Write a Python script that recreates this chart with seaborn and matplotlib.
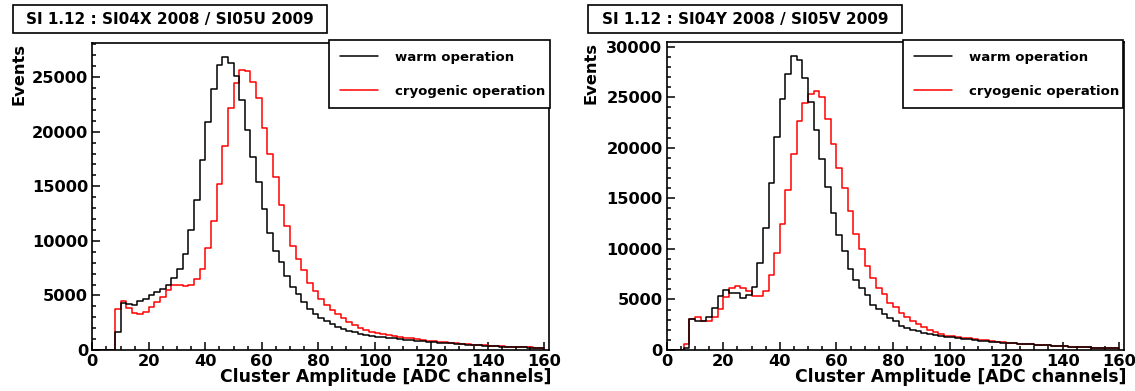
import numpy as np
import pandas as pd
import matplotlib
matplotlib.use("Agg")
import matplotlib.pyplot as plt
import matplotlib.patches as mpatches
from matplotlib.lines import Line2D
from matplotlib.ticker import MultipleLocator
import seaborn as sns

# ---------------- data ----------------
bin_width = 2                 # 80 bins of 2 ADC channels
bin_range = (0, 160)

titles = ["SI 1.12 : SI04X 2008 / SI05U 2009", "SI 1.12 : SI04Y 2008 / SI05V 2009"]
series_labels = ["warm operation", "cryogenic operation"]
series_colors = ["#000000", "#ff0000"]
x_label = "Cluster Amplitude [ADC channels]"
y_label = "Events"

left_warm = [0, 0, 0, 0, 1670,
             4260, 4190, 4100, 4470, 4710, 5020, 5320, 5620, 5930,
             6630, 7450, 8810, 11000, 13770, 17390, 20910, 23950, 26140, 26810, 26290,
             25140, 22890, 20120, 17690, 15350, 12920, 10700, 9060, 8050, 6750, 5780,
             5110, 4410, 3800, 3340, 2950, 2640, 2340, 2130, 1950, 1760, 1610, 1460, 1370, 1280,
             1220, 1170, 1110, 1060, 1010, 960, 910, 860, 810, 760, 720, 680, 640, 600, 560,
             520, 490, 460, 430, 400, 370, 345, 320, 295, 270, 250, 230, 210, 190, 170]
left_cryo = [0, 0, 0, 0,
             3800, 4500, 3860, 3400, 3340, 3500, 3950, 4410, 4860, 5530,
             5990, 5930, 5870, 5930, 6470, 7450, 9360, 11850, 15200, 18690, 22190,
             24470, 25620, 25530, 24530, 23040, 20300, 17930, 15810, 13310, 11400, 9570,
             8360, 7300, 6170, 5410, 4710, 4100, 3650, 3280, 2890, 2580, 2280, 2040, 1820, 1610,
             1520, 1440, 1360, 1280, 1200, 1130, 1060, 990, 920, 860, 810, 760, 710, 660, 620,
             580, 540, 500, 465, 430, 400, 370, 345, 320, 295, 270, 250, 230, 210, 190]

right_warm = [0, 0, 0, 150,
              3030, 2860, 2860, 3220, 4180, 5330, 5920,
              5660, 5590, 5100, 5430, 6250, 8620, 12070, 16550, 21120, 24840, 27300,
              29050, 28680, 26910, 24570, 21810, 18910, 16120, 13590, 11350, 9800, 8060,
              6970, 6090, 5430, 4440, 4010, 3550, 3190, 2850,
              2400, 2200, 2000, 1850, 1720, 1600, 1480, 1380, 1290,
              1250, 1180, 1110, 1050, 990, 930, 880, 830, 780, 740, 700, 660, 620, 580, 545,
              510, 480, 450, 420, 390, 360, 330, 305, 280, 255, 235, 215, 195, 180, 165]
right_cryo = [0, 0, 0, 590,
              3030, 3220, 2860, 2860, 3290, 4010, 5200,
              6180, 6320, 6180, 5860, 5360, 5330, 5860, 7400, 9640, 12430, 15790,
              19410, 22630, 24440, 25330, 25660, 25070, 22860, 20390, 17990, 16020, 13720,
              11510, 9970, 8290, 7170, 6180, 5530, 4670, 4250,
              3700, 3300, 2900, 2550, 2250, 2000, 1750, 1560, 1420,
              1370, 1290, 1210, 1140, 1070, 1000, 940, 880, 830, 780, 730, 680, 640, 600, 560,
              520, 485, 450, 420, 390, 360, 330, 305, 280, 255, 235, 215, 195, 180, 165]

panels = [(left_warm, left_cryo), (right_warm, right_cryo)]

# ---------------- style ----------------
sns.set_style("ticks")
plt.rcParams["font.family"] = ["DejaVu Sans"]
plt.rcParams["font.weight"] = "bold"
plt.rcParams["axes.labelweight"] = "bold"
for key in ["text.color", "axes.labelcolor", "xtick.color", "ytick.color",
            "xtick.labelcolor", "ytick.labelcolor", "axes.edgecolor"]:
    plt.rcParams[key] = "black"

W, H = 1135, 391
fig = plt.figure(figsize=(W / 100, H / 100), dpi=100)
fig.patch.set_facecolor("white")

# pixel boxes: (left, top, right, bottom)
ax_boxes = [(92.3, 42.7, 549.0, 350.0), (666.7, 41.7, 1124.0, 350.0)]
title_boxes = [(13.3, 5.0, 326.7, 33.3), (588.3, 5.0, 901.7, 33.3)]
legend_boxes = [(329.0, 40.0, 550.0, 110.0), (903.3, 40.0, 1123.3, 110.0)]
ylabel_x = [-0.145, -0.150]

n_bins = int((bin_range[1] - bin_range[0]) / bin_width)
bin_centers = bin_range[0] + bin_width * (np.arange(n_bins) + 0.5)

for k, (warm, cryo) in enumerate(panels):
    l, t, r, b = ax_boxes[k]
    ax = fig.add_axes([l / W, 1 - b / H, (r - l) / W, (b - t) / H])
    df = pd.DataFrame({
        "amp": np.concatenate([bin_centers, bin_centers]),
        "events": np.concatenate([warm, cryo]).astype(float),
        "op": [series_labels[0]] * len(warm) + [series_labels[1]] * len(cryo),
    })
    sns.histplot(data=df, x="amp", weights="events", hue="op",
                 hue_order=series_labels,
                 palette=dict(zip(series_labels, series_colors)),
                 binwidth=bin_width, binrange=bin_range, element="step", fill=False,
                 linewidth=1.1, legend=False, ax=ax)

    ymax = 1.05 * max(max(warm), max(cryo))
    ax.set_xlim(0, 161.7)
    ax.set_ylim(0, ymax)
    ax.xaxis.set_major_locator(MultipleLocator(20))
    ax.xaxis.set_minor_locator(MultipleLocator(5))
    ax.yaxis.set_major_locator(MultipleLocator(5000))
    ax.yaxis.set_minor_locator(MultipleLocator(1000))
    ax.tick_params(which="both", direction="in", top=False, right=False,
                   bottom=True, left=True, color="black", width=1.1)
    ax.tick_params(which="major", length=6, labelsize=11.7, pad=3, labelcolor="black")
    ax.tick_params(which="minor", length=3)
    for lab in ax.get_xticklabels() + ax.get_yticklabels():
        lab.set_fontweight("bold")
    for sp in ax.spines.values():
        sp.set_visible(True)
        sp.set_color("black")
        sp.set_linewidth(1.2)

    ax.set_xlabel(x_label, fontsize=12.4, fontweight="bold", color="black")
    ax.xaxis.set_label_coords(1.006, -0.058)
    ax.xaxis.label.set_ha("right")
    ax.xaxis.label.set_va("top")
    ax.set_ylabel(y_label, fontsize=11.7, fontweight="bold", loc="top", color="black")
    ax.yaxis.set_label_coords(ylabel_x[k], 1.0)

    # legend
    lx0, ly0, lx1, ly1 = legend_boxes[k]
    handles = [Line2D([], [], color=c, lw=1.1) for c in series_colors]
    leg = ax.legend(handles, series_labels, loc="upper left",
                    bbox_to_anchor=(lx0 / W, 1 - ly1 / H, (lx1 - lx0) / W, (ly1 - ly0) / H),
                    bbox_transform=fig.transFigure, mode="expand", borderaxespad=0,
                    prop={"size": 9.5, "weight": "bold"},
                    handlelength=2.9, handletextpad=1.3, borderpad=0.8,
                    labelspacing=1.6, fancybox=False, framealpha=1.0,
                    edgecolor="black", facecolor="white")
    leg.get_frame().set_linewidth(1.2)
    for txt in leg.get_texts():
        txt.set_color("black")

    # title box
    tx0, ty0, tx1, ty1 = title_boxes[k]
    fig.patches.append(mpatches.Rectangle((tx0 / W, 1 - ty1 / H), (tx1 - tx0) / W, (ty1 - ty0) / H,
                                          transform=fig.transFigure, facecolor="white",
                                          edgecolor="black", linewidth=1.2))
    fig.text((tx0 + tx1) / 2 / W, 1 - (ty0 + ty1) / 2 / H, titles[k],
             ha="center", va="center", fontsize=11, fontweight="bold", color="black")

fig.savefig("out.png", dpi=100, facecolor="white")
